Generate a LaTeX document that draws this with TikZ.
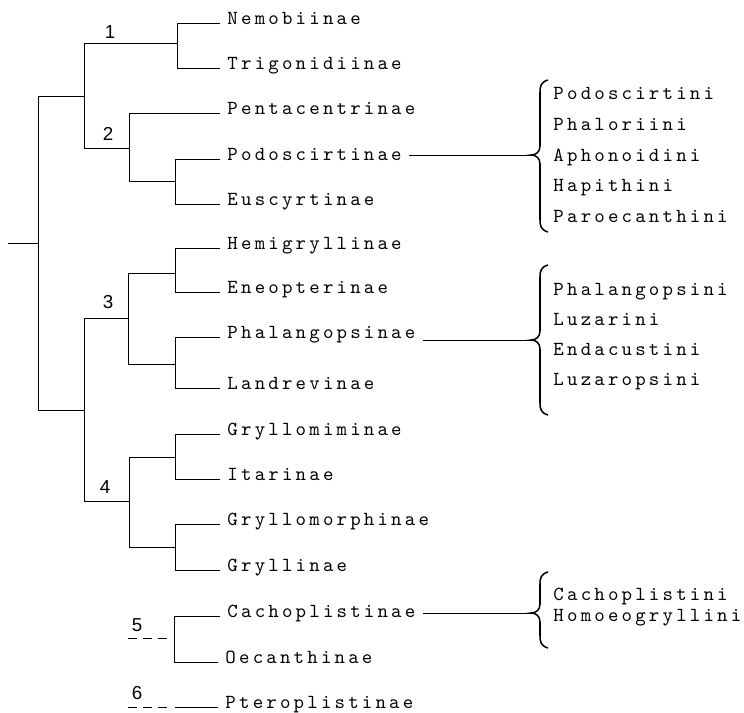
\documentclass[tikz,border=0pt]{standalone}
\usepackage{fontspec}
\newfontfamily\taxonfont{lmmono10-regular}[Extension=.otf,LetterSpace=16]
\newfontfamily\cladefont{Liberation Sans}
\usetikzlibrary{positioning}

% curly brace: #1 name of tip, #2 top, #3 tip, #4 bottom (pixel rows)
\newcommand{\tribebrace}[4]{%
  \draw[bracestroke] (548,#2) .. controls (541,#2+2) and (540,#2+6) .. (540,#2+12)
    -- (540,#3-9) .. controls (540,#3-3) and (536,#3) .. (531,#3)
    .. controls (536,#3) and (540,#3+3) .. (540,#3+9)
    -- (540,#4-12) .. controls (540,#4-6) and (541,#4-2) .. (548,#4);
  \coordinate (#1) at (531,#3);
}

\begin{document}
\begin{tikzpicture}[x=0.03cm,y=-0.03cm,line width=.8pt,
    taxon/.style={anchor=west,inner xsep=6pt,inner ysep=0pt,text height=3.4pt,text depth=0pt,
      font=\taxonfont\fontsize{17}{18}\selectfont},
    tribes/.style={anchor=west,align=left,inner sep=0pt,font=\taxonfont\fontsize{17}{#1}\selectfont},
    clade/.style={font=\cladefont\fontsize{16}{18}\selectfont,inner sep=0pt},
    stemdash/.style={dash pattern=on 7.6pt off 5.1pt},
    bracestroke/.style={line width=1.3pt}]
  \useasboundingbox (0,0) rectangle (744,713);

  % branching points
  \coordinate (stub) at (8,243);
  \coordinate (root) at (38,243);
  \coordinate (cA) at (84,96);
  \coordinate (c1) at (177,43);
  \coordinate (c2) at (129,148);
  \coordinate (c2b) at (175,181);
  \coordinate (cB) at (84,410);
  \coordinate (c3) at (128,318);
  \coordinate (c3a) at (175,273);
  \coordinate (c3b) at (175,364);
  \coordinate (c4) at (129,501);
  \coordinate (c4a) at (175,457);
  \coordinate (c4b) at (175,547);
  \coordinate (s5) at (128,638);
  \coordinate (c5) at (174,638);
  \coordinate (s6) at (128,707);
  \coordinate (c6) at (175,707);

  % subfamilies
  \node[taxon] (nemo) at (220,23) {Nemobiinae};
  \node[taxon] (trig) at (220,68) {Trigonidiinae};
  \node[taxon] (pent) at (220,113) {Pentacentrinae};
  \node[taxon] (podo) at (220,159) {Podoscirtinae};
  \node[taxon] (eusc) at (220,204) {Euscyrtinae};
  \node[taxon] (hemi) at (220,248) {Hemigryllinae};
  \node[taxon] (eneo) at (220,292) {Eneopterinae};
  \node[taxon] (phal) at (220,337) {Phalangopsinae};
  \node[taxon] (land) at (220,388) {Landrevinae};
  \node[taxon] (grmi) at (220,434) {Gryllomiminae};
  \node[taxon] (itar) at (220,479) {Itarinae};
  \node[taxon] (grmo) at (220,524) {Gryllomorphinae};
  \node[taxon] (gryl) at (220,570) {Gryllinae};
  \node[taxon] (cach) at (220,616) {Cachoplistinae};
  \node[taxon] (oeca) at (218,662) {Oecanthinae};
  \node[taxon] (pter) at (218,707) {Pteroplistinae};

  % tree
  \draw (stub) -- (root);
  \draw (root) |- (cA);
  \draw (root) |- (cB);
  \draw (cA) |- (c1);
  \draw (cA) |- (c2);
  \draw (c1) |- (nemo.west);
  \draw (c1) |- (trig.west);
  \draw (c2) |- (pent.west);
  \draw (c2) |- (c2b);
  \draw (c2b) |- (podo.west);
  \draw (c2b) |- (eusc.west);
  \draw (cB) |- (c3);
  \draw (cB) |- (c4);
  \draw (c3) |- (c3a);
  \draw (c3) |- (c3b);
  \draw (c3a) |- (hemi.west);
  \draw (c3a) |- (eneo.west);
  \draw (c3b) |- (phal.west);
  \draw (c3b) |- (land.west);
  \draw (c4) |- (c4a);
  \draw (c4) |- (c4b);
  \draw (c4a) |- (grmi.west);
  \draw (c4a) |- (itar.west);
  \draw (c4b) |- (grmo.west);
  \draw (c4b) |- (gryl.west);
  \draw[stemdash,shorten >=6pt] (s5) -- (c5);
  \draw (c5) |- (cach.west);
  \draw (c5) |- (oeca.west);
  \draw[stemdash,shorten >=7pt] (s6) -- (c6);
  \draw (c6) -- (pter.west);

  % clade numbers
  \node[clade] (k1) at (110,32) {1};
  \node[clade] (k2) at (108,134) {2};
  \node[clade] (k3) at (108,302) {3};
  \node[clade] (k4) at (105,487) {4};
  \node[clade] (k5) at (137,625) {5};
  \node[clade] (k6) at (137,693) {6};

  % tribes
  \tribebrace{t1}{80}{155}{232}
  \tribebrace{t2}{265}{340}{415}
  \tribebrace{t3}{572}{613}{648}
  \node[tribes=26.4] (podotr) at (553,155) {Podoscirtini\\Phaloriini\\Aphonoidini\\Hapithini\\Paroecanthini};
  \node[tribes=25.6] (phaltr) at (553,337) {Phalangopsini\\Luzarini\\Endacustini\\Luzaropsini};
  \node[tribes=18] (cachtr) at (553,607) {Cachoplistini\\Homoeogryllini};
  \draw (podo.east |- t1) -- (t1);
  \draw (phal.east |- t2) -- (t2);
  \draw (cach.east |- t3) -- (t3);
\end{tikzpicture}
\end{document}
